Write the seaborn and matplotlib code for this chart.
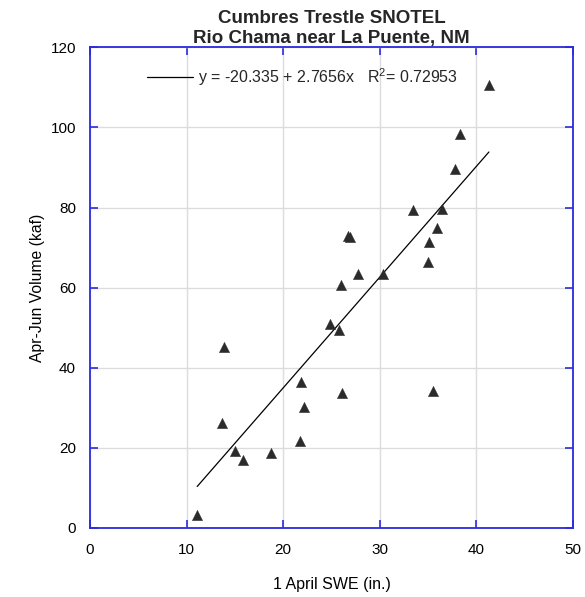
import numpy as np
import pandas as pd
import matplotlib
matplotlib.use("Agg")
import matplotlib.pyplot as plt
import seaborn as sns

# 1 April snow water equivalent (in.) and Apr-Jun streamflow volume (kaf)
swe = [11.1, 13.9, 13.7, 15.0, 15.8, 18.7, 21.85, 22.2, 21.7, 26.1,
       24.9, 25.8, 25.95, 26.7, 26.9, 27.7, 30.3, 33.4, 36.4, 35.9,
       35.1, 35.0, 35.5, 37.8, 38.3, 41.3]
volume = [3.2, 45.1, 26.1, 19.2, 17.0, 18.6, 36.4, 30.3, 21.7, 33.6,
          50.9, 49.4, 60.6, 72.9, 72.6, 63.4, 63.5, 79.3, 79.6, 74.9,
          71.5, 66.3, 34.2, 89.7, 98.5, 110.5]

# fitted regression
intercept = -20.335
slope = 2.7656
r_squared = 0.72953

x_ticks = [0, 10, 20, 30, 40, 50]
y_ticks = [0, 20, 40, 60, 80, 100, 120]

sns.set_theme(style="whitegrid")
plt.rcParams["font.family"] = ["Liberation Sans", "DejaVu Sans"]
plt.rcParams["mathtext.fontset"] = "custom"
plt.rcParams["mathtext.rm"] = "Liberation Sans"
plt.rcParams["mathtext.it"] = "Liberation Sans:italic"

df = pd.DataFrame({"swe": swe, "volume": volume})

fig = plt.figure(figsize=(5.85, 5.97), dpi=100)
ax = fig.add_axes([0.1538, 0.1156, 0.8256, 0.8050])
ax.set_facecolor("white")

x_fit = np.array([min(swe), max(swe)])
y_fit = intercept + slope * x_fit
fit_label = f"y = {intercept} + {slope}x   R$^2$= {r_squared}"
line, = ax.plot(x_fit, y_fit, color="black", lw=0.9, label=fit_label, zorder=2)

sns.scatterplot(data=df, x="swe", y="volume", marker="^", s=55,
                color="#2b2b2b", edgecolor="#2b2b2b", linewidth=0.3,
                ax=ax, zorder=3, legend=False)

ax.set_xlim(0, 50)
ax.set_ylim(0, 120)
ax.set_xticks(x_ticks)
ax.set_yticks(y_ticks)
ax.grid(True, color="#dcdcdc", lw=1.0)

for sp in ax.spines.values():
    sp.set_visible(True)
    sp.set_color("#2b2bdd")
    sp.set_linewidth(1.3)

ax.tick_params(axis="both", which="major", direction="in", length=6,
               width=1.2, color="#2b2bdd", top=True, right=True,
               bottom=True, left=True, labelsize=11, labelcolor="black",
               pad=11)
ax.tick_params(axis="y", pad=10)

ax.set_xlabel("1 April SWE (in.)", fontsize=11.5, labelpad=14, color="black")
ax.set_ylabel("Apr-Jun Volume (kaf)", fontsize=11.3, labelpad=4, color="black")

ax.set_title("Cumbres Trestle SNOTEL\nRio Chama near La Puente, NM",
             fontsize=13.5, fontweight="bold", pad=3, linespacing=1.22)

ax.legend(handles=[line], loc="center left", bbox_to_anchor=(0.118, 0.938),
          frameon=False, fontsize=11.5, handlelength=2.9, handletextpad=0.3,
          borderpad=0, borderaxespad=0)

fig.savefig("out.png", dpi=100, facecolor="white")
